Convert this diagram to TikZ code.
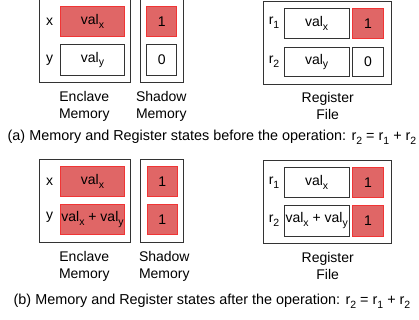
\documentclass[tikz,border=0pt]{standalone}
\usepackage{fontspec}
\setmainfont{Liberation Sans}
\newcommand{\mysub}[1]{\raisebox{-0.28em}{\fontsize{10.5}{10.5}\selectfont #1}}
\definecolor{cellred}{HTML}{E06666}
\definecolor{cellborder}{HTML}{F03535}
\definecolor{linegray}{HTML}{333333}
\begin{document}
\begin{tikzpicture}[x=1pt,y=-1pt,
  outer/.style={draw=linegray,line width=0.9pt,fill=white,minimum height=83.2pt,inner sep=0pt},
  cell/.style={draw=linegray,line width=0.9pt,fill=white,minimum height=30.6pt,inner sep=0pt,font=\fontsize{14}{16}\selectfont},
  redcell/.style={cell,fill=cellred,draw=cellborder},
  lbl/.style={inner sep=0pt,font=\fontsize{14}{16}\selectfont},
  boxcap/.style={inner sep=0pt,align=center,font=\fontsize{14}{17}\selectfont},
  captext/.style={inner sep=0pt,font=\fontsize{14.4}{16}\selectfont}]
\useasboundingbox (0,0) rectangle (419,320);
% ---------- (a) ----------
\node[outer,minimum width=90.5pt] (encA) at (84.75,41.1) {};
\node[outer,minimum width=42.3pt] (shA) at (161.85,41.1) {};
\node[outer,minimum width=127.7pt,minimum height=83pt] (regA) at (327.15,42.5) {};
\node[redcell,minimum width=64.4pt] (axv) at (92.5,21.35) {val\mysub{x}};
\node[cell,minimum width=64.4pt] (ayv) at (92.5,60) {val\mysub{y}};
\node[redcell,minimum width=30pt] (axs) at (161.7,21.35) {1};
\node[cell,minimum width=30pt] (ays) at (161.7,60) {0};
\node[lbl] (axl) at (49.7,22) {x};
\node[lbl] (ayl) at (49.7,60) {y};
\node[cell,minimum width=64.7pt,minimum height=30.7pt] (ar1v) at (316.65,23.35) {val\mysub{x}};
\node[cell,minimum width=64.7pt,minimum height=29.4pt] (ar2v) at (316.65,62) {val\mysub{y}};
\node[redcell,minimum width=30.6pt,minimum height=30.7pt] (ar1s) at (368,23.35) {1};
\node[cell,minimum width=30.6pt,minimum height=29.4pt] (ar2s) at (368,62) {0};
\node[lbl] (ar1l) at (274,23) {r\mysub{1}};
\node[lbl] (ar2l) at (274,62) {r\mysub{2}};
\node[boxcap] (aenc) at (84.3,106) {Enclave\\Memory};
\node[boxcap] (ash) at (161.3,106) {Shadow\\Memory};
\node[boxcap] (areg) at (327.7,106) {Register\\File};
\node[captext] (acap) at (212,137.3) {(a) Memory and Register states before the operation: r\mysub{2} = r\mysub{1} + r\mysub{2}};
% ---------- (b) ----------
\node[outer,minimum width=90.5pt] (encB) at (84.75,201) {};
\node[outer,minimum width=42.3pt] (shB) at (161.85,201) {};
\node[outer,minimum width=127.7pt,minimum height=83.3pt] (regB) at (327.15,201.65) {};
\node[redcell,minimum width=64.4pt] (bxv) at (92.5,181.35) {val\mysub{x}};
\node[redcell,minimum width=64.4pt] (byv) at (92.5,219.35) {val\mysub{x} + val\mysub{y}};
\node[redcell,minimum width=30pt] (bxs) at (162.3,181.35) {1};
\node[redcell,minimum width=30pt] (bys) at (162.3,219.35) {1};
\node[lbl] (bxl) at (49.7,182) {x};
\node[lbl] (byl) at (49.7,217.5) {y};
\node[cell,minimum width=64.7pt,minimum height=30pt] (br1v) at (316.65,182.3) {val\mysub{x}};
\node[cell,minimum width=64.7pt,minimum height=30.7pt] (br2v) at (316.65,220.65) {val\mysub{x} + val\mysub{y}};
\node[redcell,minimum width=30.6pt,minimum height=30pt] (br1s) at (368,182.3) {1};
\node[redcell,minimum width=30.6pt,minimum height=30.7pt] (br2s) at (368,220.65) {1};
\node[lbl] (br1l) at (274,183) {r\mysub{1}};
\node[lbl] (br2l) at (274,221) {r\mysub{2}};
\node[boxcap] (benc) at (84.3,266) {Enclave\\Memory};
\node[boxcap] (bsh) at (164.3,266) {Shadow\\Memory};
\node[boxcap] (breg) at (327.7,266) {Register\\File};
\node[captext] (bcap) at (212,301.7) {(b) Memory and Register states after the operation: r\mysub{2} = r\mysub{1} + r\mysub{2}};
\end{tikzpicture}
\end{document}
